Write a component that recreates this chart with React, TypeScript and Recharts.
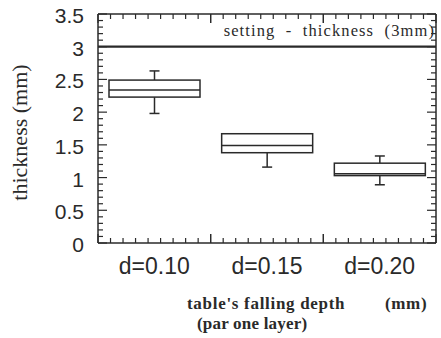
import React from 'react';
import { ComposedChart, Bar, XAxis, YAxis, ReferenceLine } from 'recharts';

// box plot values (thickness in mm)
const depths = ['d=0.10', 'd=0.15', 'd=0.20'];
const whiskerLow = [1.98, 1.16, 0.89];
const boxLow = [2.23, 1.38, 1.03];
const medians = [2.34, 1.49, 1.06];
const boxHigh = [2.49, 1.67, 1.22];
const whiskerHigh = [2.63, 1.67, 1.33];
const yTicks = [0, 0.5, 1, 1.5, 2, 2.5, 3, 3.5];
const settingThickness = 3;

const data = depths.map((name, i) => ({
  name,
  min: whiskerLow[i],
  q1: boxLow[i],
  median: medians[i],
  q3: boxHigh[i],
  max: whiskerHigh[i],
  range: [whiskerLow[i], whiskerHigh[i]],
}));

// minor tick positions: 0.1 mm steps on y, 9 steps per category band on x
const minorY = Array.from({ length: 36 }, (_, i) => i / 10);
const stepsPerBand = 9;

const INK = '#2a2a2a';
const SANS = '"Liberation Sans", Arial, sans-serif';
const SERIF = '"Liberation Serif", "Times New Roman", serif';
const MARGIN_TOP = 14;

const isMajor = (v: number) => Math.abs(v * 2 - Math.round(v * 2)) < 1e-6 && yTicks.includes(Math.round(v * 2) / 2);

const BoxShape = (props: any) => {
  const { x, y, width, height, payload } = props;
  const top = Math.min(y, y + height);
  const h = Math.abs(height);
  const span = payload.max - payload.min;
  const py = (v: number) => top + ((payload.max - v) / span) * h;
  const cx = x + width / 2;
  const cap = 5;
  return (
    <g stroke={INK} strokeWidth={1.5} fill="none">
      {payload.max > payload.q3 && (
        <>
          <line x1={cx} x2={cx} y1={py(payload.max)} y2={py(payload.q3)} />
          <line x1={cx - cap} x2={cx + cap} y1={py(payload.max)} y2={py(payload.max)} />
        </>
      )}
      <line x1={cx} x2={cx} y1={py(payload.q1)} y2={py(payload.min)} />
      <line x1={cx - cap} x2={cx + cap} y1={py(payload.min)} y2={py(payload.min)} />
      <rect x={x} y={py(payload.q3)} width={width} height={py(payload.q1) - py(payload.q3)} fill="#fff" />
      <line x1={x} x2={x + width} y1={py(payload.median)} y2={py(payload.median)} />
    </g>
  );
};

const LeftTick = ({ x, y, payload }: any) => {
  const v = payload.value;
  const major = isMajor(v);
  return (
    <g>
      <line x1={x} x2={x + (major ? 9 : 5)} y1={y} y2={y} stroke={INK} strokeWidth={1.2} />
      {major && (
        <text x={x - 14} y={y} dy={9} textAnchor="end" fontSize={21} fontFamily={SANS} fill={INK}>
          {String(Math.round(v * 2) / 2)}
        </text>
      )}
    </g>
  );
};

const RightTick = ({ x, y, payload }: any) => {
  const major = isMajor(payload.value);
  return <line x1={x} x2={x - (major ? 9 : 5)} y1={y} y2={y} stroke={INK} strokeWidth={1.2} />;
};

// category label, plus the frame's minor ticks across this band (bottom and top)
const CategoryTick = ({ x, y, payload }: any) => {
  const half = payload.offset || 56;
  const left = x - half;
  const step = (2 * half) / stepsPerBand;
  const marks = Array.from({ length: stepsPerBand + 1 }, (_, k) => k);
  return (
    <g>
      <g stroke={INK} strokeWidth={1.2}>
        {marks.map((k) => {
          const len = k === 0 || k === stepsPerBand ? 9 : 5;
          const mx = left + k * step;
          return (
            <g key={k}>
              <line x1={mx} x2={mx} y1={y} y2={y - len} />
              <line x1={mx} x2={mx} y1={MARGIN_TOP} y2={MARGIN_TOP + len} />
            </g>
          );
        })}
      </g>
      <text x={x} y={y} dy={31} textAnchor="middle" fontSize={23} fontFamily={SANS} fill={INK}>
        {payload.value}
      </text>
    </g>
  );
};

const XTitle = ({ viewBox }: any) => {
  const { x, y } = viewBox;
  return (
    <g fontFamily={SERIF} fontWeight="bold" fontSize={17} fill={INK}>
      <text x={x + 89} y={y + 66} letterSpacing={0.7} style={{ whiteSpace: 'pre' }}>
        {"table's falling depth        (mm)"}
      </text>
      <text x={x + 99} y={y + 86} letterSpacing={0.2}>
        (par one layer)
      </text>
    </g>
  );
};

const YTitle = ({ viewBox }: any) => {
  const { y, height } = viewBox;
  const cy = y + height / 2 + 4;
  return (
    <text x={20} y={cy} transform={`rotate(-90, 20, ${cy})`} dy={7} textAnchor="middle" fontSize={22} fontFamily={SERIF} fill={INK}>
      thickness (mm)
    </text>
  );
};

const SettingLabel = ({ viewBox }: any) => {
  const { x, y, width } = viewBox;
  return (
    <text x={x + width - 1} y={y - 11} textAnchor="end" fontSize={16.5} fontFamily={SERIF} fill={INK} letterSpacing={1.1} style={{ whiteSpace: 'pre' }}>
      {'setting  -  thickness  (3mm)'}
    </text>
  );
};

export default function App() {
  return (
    <div style={{ position: 'absolute', left: 0, top: 0, background: '#fff' }}>
      <ComposedChart width={441} height={338} data={data} margin={{ top: MARGIN_TOP, right: 4, bottom: 0, left: 0 }}>
        <XAxis
          xAxisId="cat"
          dataKey="name"
          height={95}
          axisLine={{ stroke: INK, strokeWidth: 1.5 }}
          tickLine={false}
          tickSize={0}
          tickMargin={0}
          interval={0}
          tick={<CategoryTick />}
          label={<XTitle />}
        />
        <YAxis
          yAxisId="left"
          type="number"
          domain={[0, 3.5]}
          ticks={minorY}
          interval={0}
          width={98}
          tickSize={0}
          tickMargin={0}
          tick={<LeftTick />}
          axisLine={{ stroke: INK, strokeWidth: 1.5 }}
          label={<YTitle />}
        />
        <YAxis
          yAxisId="right"
          orientation="right"
          type="number"
          domain={[0, 3.5]}
          ticks={minorY}
          interval={0}
          width={1}
          tickSize={0}
          tickMargin={0}
          tick={<RightTick />}
          axisLine={{ stroke: INK, strokeWidth: 1.5 }}
          allowDataOverflow
        />
        <ReferenceLine xAxisId="cat" yAxisId="left" y={3.5} stroke={INK} strokeWidth={1.5} ifOverflow="visible" />
        <ReferenceLine
          xAxisId="cat"
          yAxisId="left"
          y={settingThickness}
          stroke={INK}
          strokeWidth={2.2}
          label={<SettingLabel />}
        />
        <Bar
          xAxisId="cat"
          yAxisId="left"
          dataKey="range"
          barSize={91}
          shape={<BoxShape />}
          isAnimationActive={false}
        />
      </ComposedChart>
    </div>
  );
}
